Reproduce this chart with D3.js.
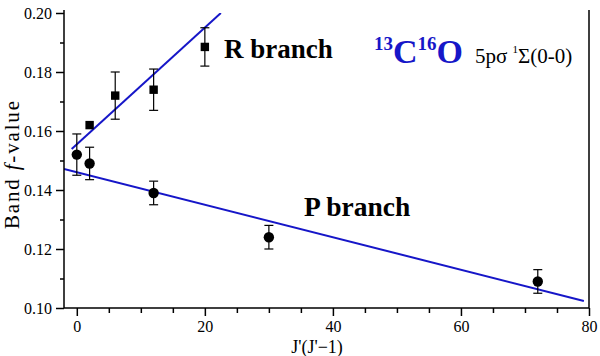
<!DOCTYPE html>
<html>
<head>
<meta charset="utf-8">
<script src="https://cdn.jsdelivr.net/npm/d3@7"></script>
<style>
  body { margin: 0; background: #fff; }
  svg text { font-family: "Liberation Serif", "Times New Roman", serif !important; }
</style>
</head>
<body>
<svg width="600" height="356"></svg>
<script>
// data
var pX = [0, 2, 12, 30, 72];
var pY = [0.152, 0.149, 0.139, 0.124, 0.109];
var pErr = [0.007, 0.0055, 0.004, 0.004, 0.004];

var rX = [2, 6, 12, 20];
var rY = [0.162, 0.172, 0.174, 0.1885];
var rErr = [0, 0.008, 0.007, 0.0065];

// linear fits (end points)
var pFit = [[-2, 0.1471], [79.2, 0.1024]];
var rFit = [[-0.8, 0.1539], [22.5, 0.2]];

var xTicks = [0, 20, 40, 60, 80];
var yTicks = [0.10, 0.12, 0.14, 0.16, 0.18, 0.20];

var svg = d3.select("svg"),
    blue = "#1616c8";

var x = d3.scaleLinear().domain([-2, 80]).range([64, 589]);
var y = d3.scaleLinear().domain([0.10, 0.20]).range([308, 13]);

svg.append("defs").append("clipPath").attr("id", "plot")
  .append("rect")
    .attr("x", 64).attr("y", 13)
    .attr("width", 525).attr("height", 295);

// fit lines
var line = d3.line()
    .x(function(d) { return x(d[0]); })
    .y(function(d) { return y(d[1]); });

var fits = svg.append("g").attr("clip-path", "url(#plot)");
[pFit, rFit].forEach(function(f) {
  fits.append("path")
    .attr("d", line(f))
    .attr("fill", "none")
    .attr("stroke", blue)
    .attr("stroke-width", 2);
});

// error bars
function errorBars(xs, ys, es) {
  var g = svg.append("g").attr("stroke", "#000").attr("stroke-width", 1.2);
  xs.forEach(function(v, i) {
    if (!es[i]) return;
    var cx = x(v), lo = y(ys[i] - es[i]), hi = y(ys[i] + es[i]);
    g.append("line").attr("x1", cx).attr("x2", cx).attr("y1", lo).attr("y2", hi);
    g.append("line").attr("x1", cx - 4.5).attr("x2", cx + 4.5).attr("y1", lo).attr("y2", lo);
    g.append("line").attr("x1", cx - 4.5).attr("x2", cx + 4.5).attr("y1", hi).attr("y2", hi);
  });
}
errorBars(pX, pY, pErr);
errorBars(rX, rY, rErr);

// markers
svg.append("g").selectAll("circle")
  .data(pX).enter().append("circle")
    .attr("cx", function(d) { return x(d); })
    .attr("cy", function(d, i) { return y(pY[i]); })
    .attr("r", 5.2)
    .attr("fill", "#000");

svg.append("g").selectAll("rect")
  .data(rX).enter().append("rect")
    .attr("x", function(d) { return x(d) - 4.2; })
    .attr("y", function(d, i) { return y(rY[i]) - 4.2; })
    .attr("width", 8.4)
    .attr("height", 8.4)
    .attr("fill", "#000");

// axes
svg.append("g")
    .attr("transform", "translate(0,308)")
    .call(d3.axisBottom(x).tickValues(xTicks).tickSize(8).tickPadding(5)
      .tickFormat(d3.format("d")));

svg.append("g")
    .attr("transform", "translate(0,308)")
    .call(d3.axisBottom(x).tickValues(d3.range(5, 80, 5).filter(function(d) { return d % 20; }))
      .tickSize(5).tickFormat(""));

svg.append("g")
    .attr("transform", "translate(64,0)")
    .call(d3.axisLeft(y).tickValues(yTicks).tickSize(8).tickPadding(4)
      .tickFormat(d3.format(".2f")));

svg.append("g")
    .attr("transform", "translate(64,0)")
    .call(d3.axisLeft(y).tickValues([0.11, 0.13, 0.15, 0.17, 0.19]).tickSize(4).tickFormat(""));

svg.selectAll(".domain").remove();
svg.selectAll(".tick line").attr("stroke", "#000").attr("stroke-width", 1.5);
svg.selectAll(".tick text")
    .attr("font-size", 16)
    .attr("fill", "#000");

// frame: left, bottom, right
svg.append("path")
    .attr("d", "M64,10V308H589V10")
    .attr("fill", "none")
    .attr("stroke", "#000")
    .attr("stroke-width", 1.5);

// axis titles
svg.append("text")
    .attr("x", 317).attr("y", 353)
    .attr("text-anchor", "middle")
    .attr("font-size", 18)
    .text("J'(J'\u22121)");

var yt = svg.append("text")
    .attr("transform", "translate(19,165) rotate(-90)")
    .attr("text-anchor", "middle")
    .attr("font-size", 21)
    .attr("textLength", 128)
    .attr("lengthAdjust", "spacing");
yt.append("tspan").text("Band ");
yt.append("tspan").attr("font-style", "italic").text("f");
yt.append("tspan").text("-value");

// labels
svg.append("text")
    .attr("x", 224).attr("y", 58)
    .attr("font-size", 27).attr("font-weight", "bold")
    .text("R branch");

svg.append("text")
    .attr("x", 304).attr("y", 216)
    .attr("font-size", 27.5).attr("font-weight", "bold")
    .text("P branch");

var mol = svg.append("text")
    .attr("x", 374).attr("y", 63)
    .attr("fill", blue)
    .attr("font-weight", "bold")
    .attr("font-size", 34);
mol.append("tspan").attr("font-size", 19).attr("dy", -13).text("13");
mol.append("tspan").attr("dy", 13).text("C");
mol.append("tspan").attr("font-size", 19).attr("dy", -13).text("16");
mol.append("tspan").attr("dy", 13).text("O");

var st = svg.append("text")
    .attr("x", 475).attr("y", 63)
    .attr("font-size", 21);
st.append("tspan").text("5p\u03c3 ");
st.append("tspan").attr("font-size", 11).attr("dy", -10).text("1");
st.append("tspan").attr("dy", 10).text("\u03a3(0-0)");
</script>
</body>
</html>
